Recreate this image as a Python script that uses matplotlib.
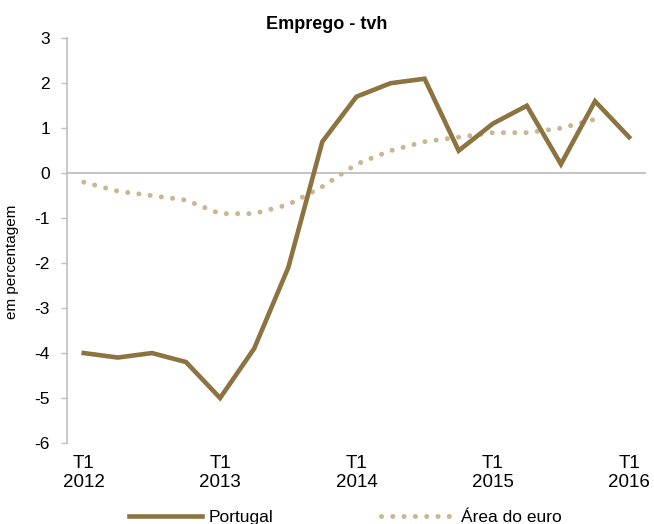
import matplotlib.pyplot as plt

plt.rcParams['font.family'] = ['Liberation Sans', 'DejaVu Sans']

# quarterly data, T1 2012 .. T1 2016
quarters = ['T1\n2012', 'T2', 'T3', 'T4',
            'T1\n2013', 'T2', 'T3', 'T4',
            'T1\n2014', 'T2', 'T3', 'T4',
            'T1\n2015', 'T2', 'T3', 'T4',
            'T1\n2016']
portugal = [-4.0, -4.1, -4.0, -4.2, -5.0, -3.9, -2.1, 0.7,
            1.7, 2.0, 2.1, 0.5, 1.1, 1.5, 0.2, 1.6, 0.8]
euro = [-0.2, -0.4, -0.5, -0.6, -0.9, -0.9, -0.7, -0.3,
        0.2, 0.5, 0.7, 0.8, 0.9, 0.9, 1.0, 1.2]

yticks = list(range(-6, 4))

fig = plt.figure(figsize=(6.54, 5.24), dpi=100)
ax = fig.add_axes([0.102, 0.1546, 0.886, 0.7724])

x = list(range(len(quarters)))
ax.axhline(0, color='#bfbfbf', lw=1.3, zorder=1)
ax.plot(x, portugal, color='#8c7340', lw=3.3, solid_joinstyle='miter',
        label='Portugal', zorder=3)
ax.plot(x[:len(euro)], euro, color='#c9b693', lw=3.6,
        linestyle=(0, (0.01, 2.25)), dash_capstyle='round',
        label='Área do euro', zorder=2)

ax.set_xlim(-0.5, 16.5)
ax.set_ylim(-6, 3)
ax.set_yticks(yticks)
ax.set_yticklabels([str(v) for v in yticks], fontsize=12.5)

xt = [i for i, q in enumerate(quarters) if q.startswith('T1')]
ax.set_xticks(xt)
ax.set_xticklabels([quarters[i] for i in xt], fontsize=13.5, linespacing=1.1)
ax.tick_params(axis='x', length=0, pad=9)
ax.tick_params(axis='y', length=4, width=1, color='#bfbfbf', pad=8)

for s in ['top', 'right', 'bottom']:
    ax.spines[s].set_visible(False)
ax.spines['left'].set_color('#bfbfbf')
ax.spines['left'].set_linewidth(1.2)

ax.set_ylabel('em percentagem', fontsize=11)
ax.yaxis.set_label_coords(-0.082, 0.447)

fig.text(0.5, 0.954, 'Emprego - tvh', ha='center', va='center',
         fontsize=13, fontweight='bold')

fig.legend(loc='center', bbox_to_anchor=(0.528, 0.013), ncol=2,
           frameon=False, fontsize=12.5, handlelength=4.2, columnspacing=6.2,
           handletextpad=0.4)

fig.savefig('out.png', dpi=100)
